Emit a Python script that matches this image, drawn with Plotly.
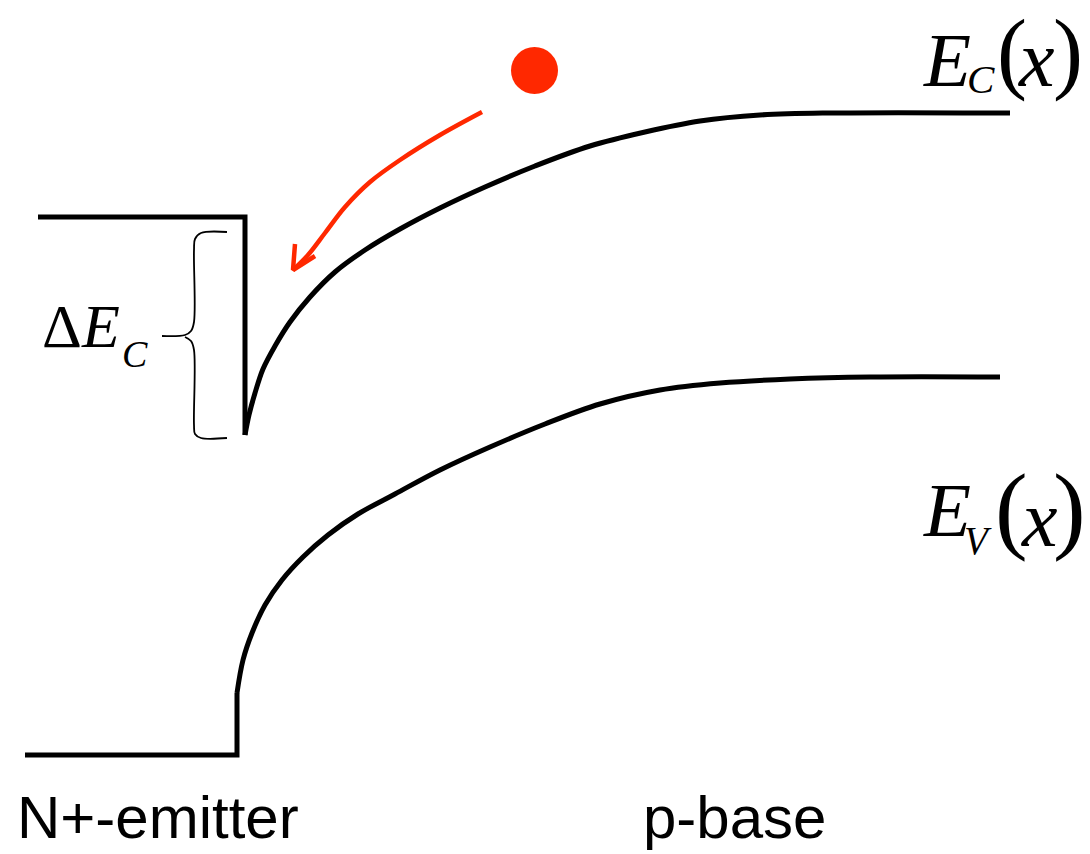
import plotly.graph_objects as go

# ---------------- data (pixel-like coordinates) ----------------
# Conduction band: emitter level + band-offset step
ec_emitter_x = [38, 245, 245]
ec_emitter_y = [217, 217, 435]
# Conduction band bending in the p-base
ec_base_x = [245, 249, 255, 263, 275, 290, 310, 335, 365, 400, 440, 485, 535, 590, 645, 700, 760, 830, 1010]
ec_base_y = [435, 415, 393, 369, 346, 322, 297, 272, 250, 229, 208, 187, 166, 146, 132, 121, 115, 113, 113]

# Valence band: emitter level + step
ev_emitter_x = [25, 237, 237]
ev_emitter_y = [755, 755, 693]
# Valence band bending in the p-base
ev_base_x = [237, 243, 252, 265, 282, 303, 328, 358, 395, 440, 490, 545, 600, 660, 720, 790, 870, 1000]
ev_base_y = [693, 660, 633, 605, 580, 557, 535, 514, 494, 470, 447, 424, 404, 390, 383, 379, 377, 377]

# Electron and its path
electron_x = [534.5]
electron_y = [70.5]
arrow_x = [482, 440, 400, 370, 345, 325, 308, 293]
arrow_y = [112, 135, 160, 182, 207, 233, 255, 270]
head_x = [295, 293, 315]
head_y = [244, 270, 256]

# Curly brace marking the conduction band offset
brace_top_x = [227, 201, 195, 194, 194, 191, 185, 162]
brace_top_y = [232, 233, 239, 250, 322, 331, 335, 336]
brace_bot_x = [185, 191, 194, 194, 195, 201, 227]
brace_bot_y = [337, 341, 350, 425, 434, 438, 438]

region_labels = ["N+-emitter", "p-base"]

BLACK = "black"
RED = "rgb(255,40,0)"
SERIF = "Liberation Serif"
SANS = "Liberation Sans"

fig = go.Figure()

def line(x, y, width, color=BLACK, shape="linear"):
    fig.add_trace(go.Scatter(x=x, y=y, mode="lines",
                             line=dict(color=color, width=width, shape=shape, smoothing=1.0),
                             hoverinfo="skip", showlegend=False))

line(ec_emitter_x, ec_emitter_y, 5)
line(ec_base_x, ec_base_y, 5, shape="spline")
line(ev_emitter_x, ev_emitter_y, 5)
line(ev_base_x, ev_base_y, 5, shape="spline")
line(brace_top_x, brace_top_y, 1.8, shape="spline")
line(brace_bot_x, brace_bot_y, 1.8, shape="spline")
line(arrow_x, arrow_y, 4.5, color=RED, shape="spline")
line(head_x, head_y, 4.5, color=RED)

fig.add_trace(go.Scatter(x=electron_x, y=electron_y, mode="markers",
                         marker=dict(size=47, color=RED, line=dict(width=0)),
                         hoverinfo="skip", showlegend=False))

def label(text, x, baseline, size, family, anchor="left"):
    fig.add_annotation(x=x, y=baseline - 0.285 * size, xref="x", yref="y",
                       text=text, showarrow=False, xanchor=anchor, yanchor="middle",
                       borderpad=0,
                       font=dict(size=size, family=family, color=BLACK))

# Delta E_C
label("Δ<i>E</i>", 41, 344, 62, SERIF)
label("<i>C</i>", 121, 365, 38, SERIF)

# E_C(x)
label("<i>E</i>", 922, 82, 77, SERIF)
label("<i>C</i>", 966, 91, 41, SERIF)
label("(", 996, 78, 90, SERIF)
label("<i>x</i>", 1017, 82, 80, SERIF)
label(")", 1052, 78, 90, SERIF)

# E_V(x)
label("<i>E</i>", 922, 532, 77, SERIF)
label("<i>V</i>", 963, 552, 39, SERIF)
label("(", 994, 536, 98, SERIF)
label("<i>x</i>", 1020, 542, 80, SERIF)
label(")", 1052, 536, 98, SERIF)

# region labels
label(region_labels[0], 16, 835, 60, SANS)
label(region_labels[1], 642, 835, 60, SANS)

fig.update_xaxes(range=[0, 1090], visible=False, fixedrange=True)
fig.update_yaxes(range=[854, 0], visible=False, fixedrange=True)
fig.update_layout(width=1090, height=854, margin=dict(l=0, r=0, t=0, b=0),
                  plot_bgcolor="white", paper_bgcolor="white", showlegend=False)

fig.write_html("out.html")
